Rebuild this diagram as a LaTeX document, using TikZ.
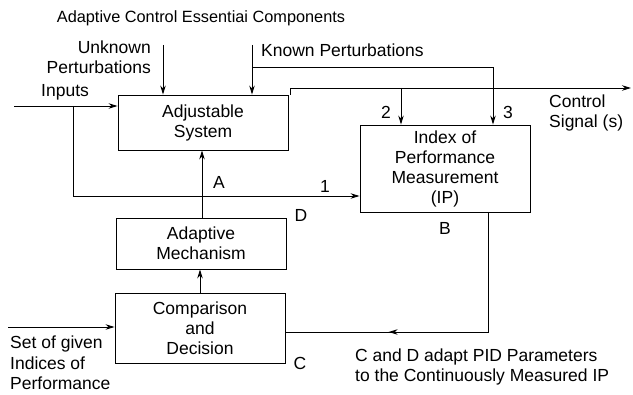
\documentclass[tikz,border=0pt]{standalone}
\usepackage{fontspec}
\setmainfont{Liberation Sans}
\usetikzlibrary{arrows.meta,decorations.markings}
\begin{document}
\begin{tikzpicture}[x=1pt,y=-1pt,
  every node/.style={font=\fontsize{17.5}{20}\selectfont},
  blk/.style={draw,line width=0.9pt,align=center,inner sep=0pt},
  ln/.style={line width=0.9pt},
  arr/.style={ln,-{Stealth[length=9pt,width=5.5pt]}},
  midarr/.style={ln,postaction={decorate},decoration={markings,mark=at position #1 with {\arrow{Stealth[length=9pt,width=5.5pt]}}}},
  lbl/.style={inner sep=0pt}]
\useasboundingbox (0,0) rectangle (633,395);
% blocks
\node[blk,minimum width=170pt,minimum height=55pt] (adj) at (203,122.5) {Adjustable\\System};
\node[blk,minimum width=170pt,minimum height=87pt] (ip) at (445,168.5) {Index of\\Performance\\Measurement\\(IP)};
\node[blk,minimum width=170pt,minimum height=51pt] (am) at (201,243.5) {Adaptive\\Mechanism};
\node[blk,minimum width=170pt,minimum height=70pt] (cd) at (200,328) {Comparison\\and\\Decision};
% texts
\node[lbl,font=\fontsize{16.3}{20}\selectfont] (title) at (201,18) {Adaptive Control Essentiai Components};
\node[lbl,align=right,anchor=east] (unk) at (151,57) {Unknown\\Perturbations};
\node[lbl,anchor=west] (kp) at (261,50) {Known Perturbations};
\node[lbl,anchor=west] (inp) at (41,92) {Inputs};
\node[lbl,align=left,anchor=west] (cs) at (549,113) {Control\\Signal (s)};
\node[lbl,align=left,anchor=west,font=\fontsize{17.5}{20.5}\selectfont] (set) at (10,363) {Set of given\\Indices of\\Performance};
\node[lbl,align=left,anchor=west] (note) at (355,367) {C and D adapt PID Parameters\\to the Continuously Measured IP};
\node[lbl] (la) at (219,182) {A};
\node[lbl] (lb) at (445,228) {B};
\node[lbl] (lc) at (300,363) {C};
\node[lbl] (ld) at (301,215) {D};
\node[lbl] (l1) at (325,186) {1};
\node[lbl] (l2) at (386,112) {2};
\node[lbl] (l3) at (508,112) {3};
% coordinates
\coordinate (inS) at (14,106);
\coordinate (br) at (73,106);
\coordinate (uS) at (163,45);
\coordinate (kS) at (252,45);
\coordinate (kC) at (252,67);
\coordinate (outS) at (290,95);
\coordinate (outE) at (631,88);
\coordinate (b2) at (401,88);
\coordinate (setS) at (8,327);
\coordinate (fb) at (488,212);
% connectors
\draw[arr] (inS) -- (inS -| adj.west);
\draw[arr] (br) |- (ip.west |- 0,196);
\draw[arr] (uS) -- (uS |- adj.north);
\draw[arr] (kS) -- (kS |- adj.north);
\draw[arr] (kC) -| (ip.north -| 493,0);
\draw[arr] (outS) |- (outE);
\draw[arr] (b2) -- (b2 |- ip.north);
\draw[arr] (am.north -| 202,0) -- (adj.south -| 202,0);
\draw[arr] (cd.north) -- (am.south -| 200,0);
\draw[arr] (setS) -- (setS -| cd.west);
\draw[midarr=0.68] (fb) |- (cd.east |- 0,332);
\end{tikzpicture}
\end{document}
